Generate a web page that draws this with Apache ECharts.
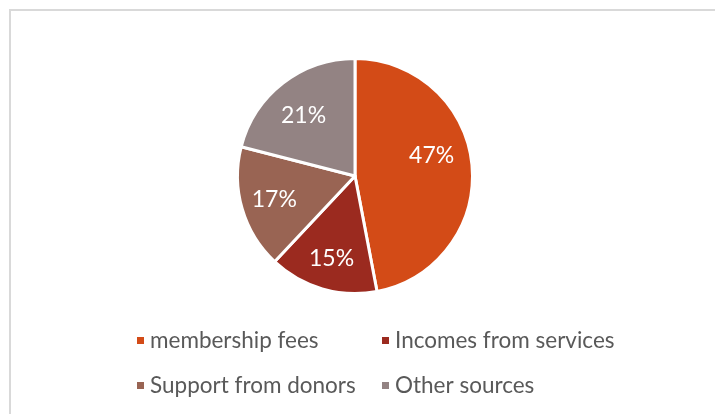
<!DOCTYPE html>
<html>
<head>
<meta charset="utf-8">
<script src="https://cdn.jsdelivr.net/npm/echarts@6/dist/echarts.min.js"></script>
<style>
  html, body { margin: 0; padding: 0; background: #ffffff; }
  #chart { width: 715px; height: 414px; }
</style>
</head>
<body>
<div id="chart"></div>
<script>
// Funding sources, share of total income (%)
const categories = ['membership fees', 'Incomes from services', 'Support from donors', 'Other sources'];
const shares = [47, 15, 17, 21];
const sliceColors = ['#D34B17', '#9B2A1F', '#996453', '#938383'];
// small per-slice nudges for the percentage labels
const labelNudges = [[-7, -13], [0, 2], [0, 0], [0, 6]];

const pieData = categories.map((name, i) => ({
  name: name,
  value: shares[i],
  itemStyle: { color: sliceColors[i] }
}));

// Label ring: transparent copy of the pie whose mid-radius sets where the percentages sit
const labelData = categories.map((name, i) => ({
  name: name,
  value: shares[i],
  label: { offset: labelNudges[i] }
}));

const fontFamily = 'Lato, "Open Sans", sans-serif';
const center = [355, 176];

const legendStyle = {
  orient: 'vertical',
  top: 324,
  icon: 'rect',
  itemWidth: 9,
  itemHeight: 9,
  itemGap: 22,
  textStyle: {
    fontFamily: fontFamily,
    fontSize: 22.5,
    color: '#595959',
    lineHeight: 22
  },
  selectedMode: false
};

const chart = echarts.init(document.getElementById('chart'), null, { renderer: 'canvas' });

chart.setOption({
  backgroundColor: '#ffffff',
  animation: false,
  color: sliceColors,
  graphic: [
    {
      type: 'polyline',
      silent: true,
      shape: { points: [[10, 414], [10, 10], [715, 10]] },
      style: { stroke: '#d9d9d9', lineWidth: 2, fill: null }
    }
  ],
  legend: [
    Object.assign({ data: [categories[0], categories[2]], left: 130 }, legendStyle),
    Object.assign({ data: [categories[1], categories[3]], left: 375 }, legendStyle)
  ],
  series: [
    {
      type: 'pie',
      center: center,
      radius: [0, 117.5],
      startAngle: 90,
      clockwise: true,
      data: pieData,
      itemStyle: { borderColor: '#ffffff', borderWidth: 3 },
      label: { show: false },
      labelLine: { show: false },
      emphasis: { disabled: true }
    },
    {
      type: 'pie',
      center: center,
      radius: [46, 116],
      startAngle: 90,
      clockwise: true,
      silent: true,
      data: labelData,
      itemStyle: { color: 'rgba(0,0,0,0)' },
      label: {
        show: true,
        position: 'inside',
        formatter: '{c}%',
        color: '#ffffff',
        fontFamily: fontFamily,
        fontSize: 23
      },
      labelLine: { show: false },
      emphasis: { disabled: true }
    }
  ]
});
</script>
</body>
</html>
